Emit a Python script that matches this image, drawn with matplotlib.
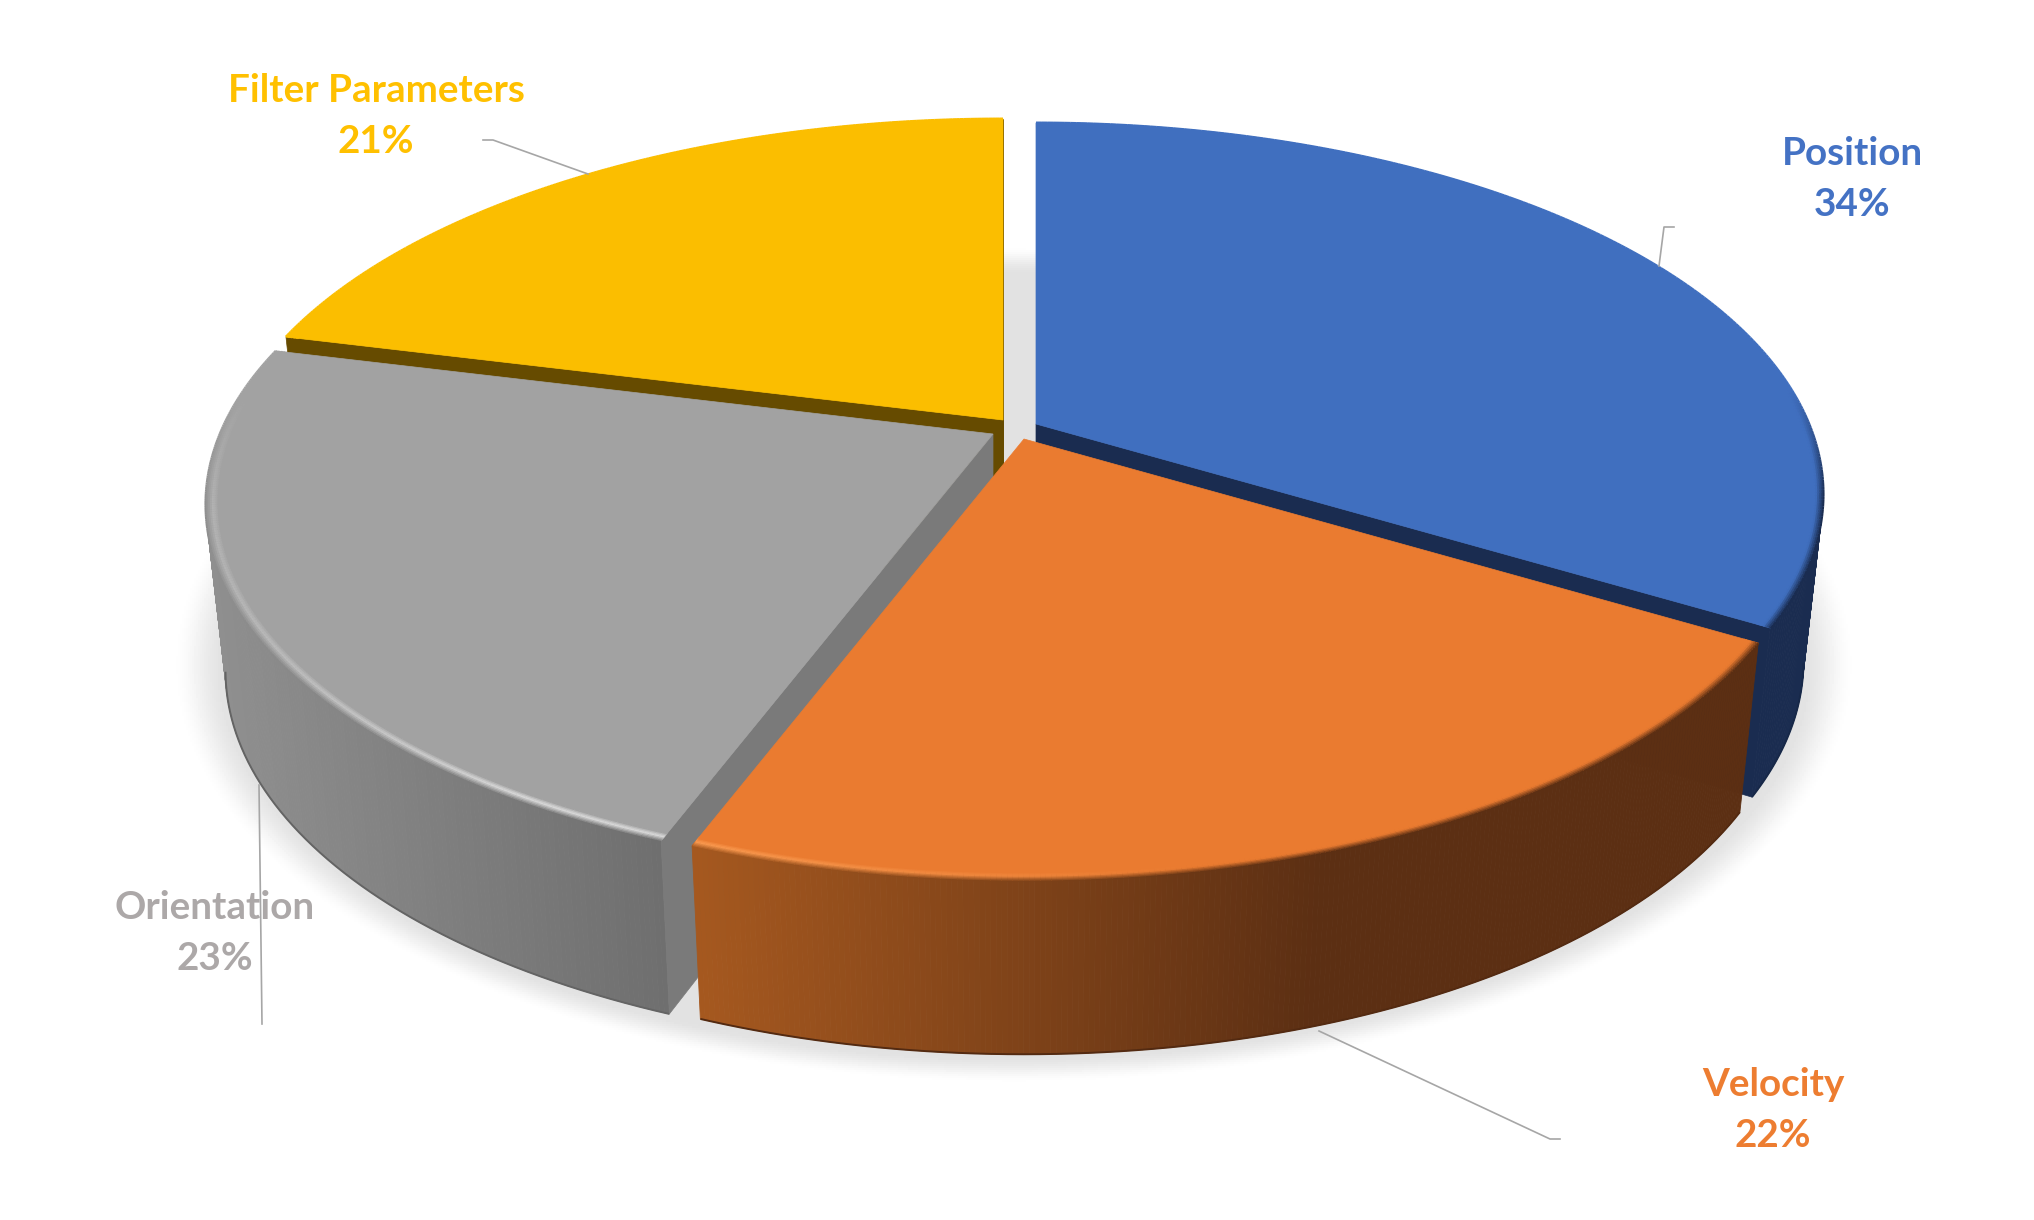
import matplotlib
matplotlib.use("Agg")
import matplotlib.pyplot as plt
import numpy as np
from matplotlib.collections import LineCollection, PolyCollection
from matplotlib.colors import to_rgb

# chart data (shares, labels show them rounded)
categories = ["Position", "Velocity", "Orientation", "Filter Parameters"]
shares = [33.6, 22.15, 23.15, 21.1]

# looks
top_colors = ["#406fbf", "#ea7b30", "#a2a2a2", "#fbbe00"]
text_colors = ["#4472c4", "#ed7d31", "#aca8a8", "#ffc000"]
side_left = ["#1a2c50", "#a5581f", "#8f8f8f", "#7f6000"]
side_right = ["#1a2c50", "#5c2f13", "#6f6f6f", "#7f6000"]
face_colors = ["#1a2c50", "#5c2f13", "#7a7a7a", "#664b00"]
glint_colors = ["#406fbf", "#fb9a50", "#dcdcdc", "#fbbe00"]
shade_from = [0, 700, 210, 0]
shade_to = [2034, 1320, 660, 2034]
apex_x = [1036, 1024, 993, 1003]
apex_y = [424, 439, 434, 420]
label_x = [1852, 1773, 215, 376]
label_y = [179, 1110, 933, 116]
leaders = [
    ([1674, 1664, 1659], [227, 227, 266]),
    ([1560, 1550, 1319], [1139, 1139, 1031]),
    ([259, 262], [785, 1024]),
    ([483, 493, 588], [140, 140, 174]),
]

rx = 773
ry = 358
tilt = 0.189
depth = 165
shrink_x = 0.975
shrink_y = 1.02


def disc(angle, r=1.0):
    # angle in degrees clockwise from 12 o'clock, back of the disc is further away
    a = np.radians(angle)
    u = r * np.sin(a)
    v = r * np.cos(a)
    w = 1 + tilt * v
    return rx * u / w, -ry * v / w


def blend(c1, c2, t):
    return tuple((1 - t) * np.array(to_rgb(c1)) + t * np.array(to_rgb(c2)))


fig = plt.figure(figsize=(20.34, 12.2), dpi=100)
ax = fig.add_axes([0, 0, 1, 1])
ax.set_xlim(0, 2034)
ax.set_ylim(1220, 0)
ax.axis("off")

# soft ground shadow
gx, gy = np.meshgrid(np.arange(0, 2034, 2), np.arange(0, 1220, 2))
dist = np.sqrt(((gx - 1013) / 815) ** 2 + ((gy - 664) / 405) ** 2)
fade = np.clip((1.035 - dist) / 0.07, 0, 1)
fade = fade * fade * (3 - 2 * fade)
ax.imshow(1 - 0.115 * fade, cmap="gray", vmin=0, vmax=1, extent=(0, 2034, 1220, 0), aspect="auto", zorder=0)
ax.set_xlim(0, 2034)
ax.set_ylim(1220, 0)

edges = np.cumsum([0] + shares) * 3.6
draw_order = [3, 0, 2, 1]

for n, i in enumerate(draw_order):
    z = 2 + n * 5
    a0, a1 = edges[i], edges[i + 1]
    ang = np.linspace(a0, a1, 240)
    ox, oy = disc(ang)
    tx = apex_x[i] + ox
    ty = apex_y[i] + oy
    bx = apex_x[i] + shrink_x * ox
    by = apex_y[i] + shrink_y * oy + depth

    # outer wall as thin strips, lighter on the left. the disc is widest at cos = -tilt,
    # anything further back can't be seen
    strips = []
    cols = []
    for k in range(len(ang) - 1):
        if np.cos(np.radians(ang[k])) > -0.15:
            continue
        strips.append([(tx[k], ty[k]), (tx[k + 1], ty[k + 1]), (bx[k + 1], by[k + 1]), (bx[k], by[k])])
        t = np.clip((tx[k] - shade_from[i]) / (shade_to[i] - shade_from[i]), 0, 1)
        cols.append(blend(side_left[i], side_right[i], t))
    if strips:
        ax.add_collection(PolyCollection(strips, facecolors=cols, edgecolors=cols, linewidths=0.6, zorder=z))
    front = np.cos(np.radians(ang)) < -tilt
    if front.any():
        ax.plot(bx[front], by[front], color=blend(side_right[i], "#000000", 0.1), lw=1.4, zorder=z, solid_capstyle="butt")

    # cut faces of the slice
    for a in (a0, a1):
        ex, ey = disc(a)
        fx = [apex_x[i], apex_x[i] + ex, apex_x[i] + shrink_x * ex, apex_x[i]]
        fy = [apex_y[i], apex_y[i] + ey, apex_y[i] + shrink_y * ey + depth, apex_y[i] + depth]
        if i == 1 or (i == 2 and a == a1) or (i == 0 and a == a0):
            continue
        ax.fill(fx, fy, color=face_colors[i], lw=0.5, zorder=z + 1)

    # top
    ax.fill(np.r_[apex_x[i], tx], np.r_[apex_y[i], ty], color=top_colors[i], lw=0.5, zorder=z + 2)

    # rounded rim along the front of the slice, outer edge first
    for f in np.linspace(0, 1, 8):
        px_, py_ = disc(ang, 1 - 0.016 * f)
        px = apex_x[i] + px_
        py = apex_y[i] + py_
        segs = np.stack([np.c_[px[:-1], py[:-1]], np.c_[px[1:], py[1:]]], axis=1)
        seg_cols = []
        for k in range(len(ang) - 1):
            weight = np.clip((0.1 - np.cos(np.radians(ang[k]))) / 0.3, 0, 1)
            if i == 1:
                gl = np.clip(1 - (px[k] - 700) / 500, 0, 1)
            elif i == 2:
                gl = np.clip(0.3 + (px[k] - 210) / 450, 0, 1)
            else:
                gl = 0
            dark = blend(side_left[i], side_right[i], np.clip((px[k] - shade_from[i]) / (shade_to[i] - shade_from[i]), 0, 1))
            shine = blend(top_colors[i], glint_colors[i], gl)
            if f < 0.6:
                c = blend(dark, shine, f / 0.6)
            else:
                c = blend(shine, top_colors[i], (f - 0.6) / 0.4)
            seg_cols.append(blend(top_colors[i], c, weight))
        ax.add_collection(LineCollection(segs, colors=seg_cols, linewidths=2.0, zorder=z + 3))

# labels and leader lines
for i, name in enumerate(categories):
    ax.plot(leaders[i][0], leaders[i][1], color="#a6a6a6", lw=1.2, zorder=40)
    ax.text(label_x[i], label_y[i], f"{name}\n{round(shares[i])}%", color=text_colors[i],
            family="Lato", weight="bold", fontsize=27.8, ha="center", va="center",
            linespacing=1.55, zorder=35)

fig.savefig("out.png", dpi=100, facecolor="white")
